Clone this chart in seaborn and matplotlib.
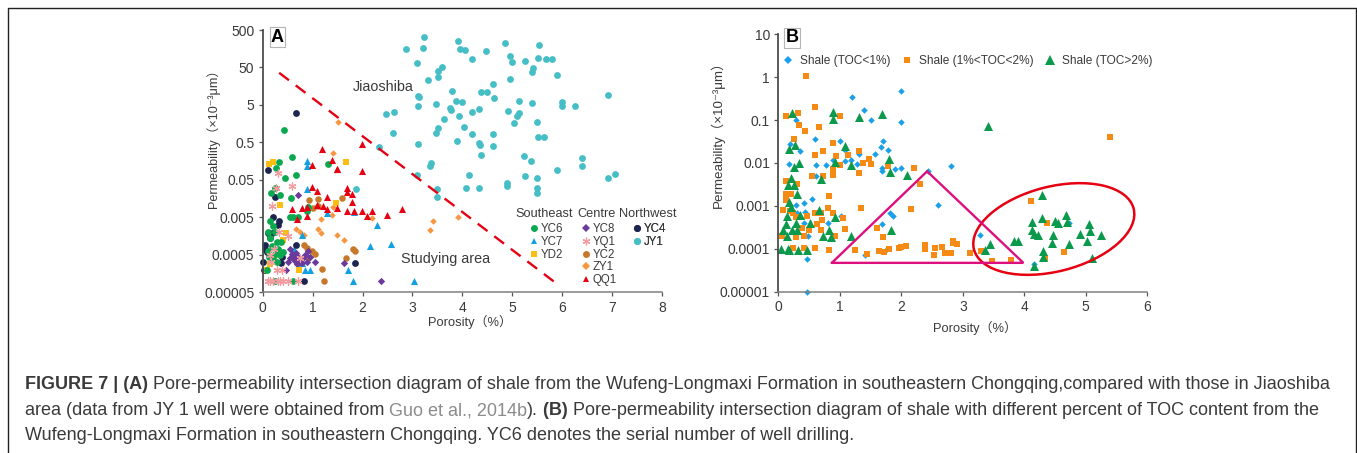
import matplotlib
matplotlib.use("Agg")
import matplotlib.pyplot as plt
import seaborn as sns
from matplotlib.lines import Line2D
from matplotlib.patches import Ellipse
from matplotlib.transforms import Affine2D

W, H = 1357, 453

# Panel A, wells (porosity %, permeability)
yc6_x = [.43, .58, .32, .27, 1.31, .44, .67, .25, .16, .35, .56, .91, .89, .55, .61, .7, .15, .2, .11, .24, .15, .29, .37, .18, .31, .41, .24, .12, .16, .08, .61, .25, .11, .35, .2, .28]
yc6_y = [1.04, .2, .15, .102, .13, .055, .068, .03, .022, .02, .016, .0097, .0076, .005, .0051, .005, .0041, .003, .002, .002, .0014, .0011, .0011, .00085, .00072, .00058, .00054, .00045, .00038, .0002, .0001, .0001, .00065, .0005, .00042, .00032]
yc7_x = [.89, .89, .89, 1.28, 1.82, 2.28, 2.57, 2.15, .78, .63, .78, .85, .95, 1.7, 1.81, 3.03]
yc7_y = [.157, .12, .029, .0064, .0068, .0032, .001, .00087, .0017, .00071, .0003, .0002, .0002, .0002, .0001, .0001]
yd2_x = [.13, .21, 1.66, .35, 1.47, .47, .41, .08, .73, .15, .3]
yd2_y = [.13, .15, .15, .0107, .0124, .0019, .00125, .0002, .0002, .00028, .0005]
yc8_x = [.71, 1.62, 2.37, .47, .55, .6, .65, .55, .7, .75, .8, .85, .9, .95, .5, .58, .68, .72, .78, .88, .62, .66, 1.05]
yc8_y = [.02, .00031, .0001, .0002, .00072, .0004, .00035, .0004, .00045, .00033, .0004, .0005, .00062, .00045, .00032, .00053, .00029, .00036, .0003, .00033, .00045, .00055, .00033]
yq1_x = [.31, .26, .59, .18, .33, .51, .23, .15, .16, .75, .29, .38, .1, .15, .2, .3, .35, .4, .5, .7]
yq1_y = [.075, .03, .035, .0101, .002, .00155, .00071, .0005, .00033, .00041, .0002, .0002, .0001, .0001, .0001, .0001, .0001, .0001, .0001, .0001]
yc2_x = [.92, 1.1, 1.59, 1.1, 1.0, .82, .89, .98, 1.05, 1.81, 1.85, 1.66, .91, 1.18, 1.23]
yc2_y = [.0146, .0156, .016, .0101, .0091, .00092, .00074, .00063, .00054, .0007, .00062, .00041, .00041, .00021, .0001]
zy1_x = [1.51, 1.41, 1.4, 1.38, 1.17, 2.18, 3.41, 3.35, .66, .75, .83, 1.11, 1.16, 1.49, 1.63, 3.91]
zy1_y = [1.7, .257, .0097, .0059, .0045, .0047, .0041, .0023, .0024, .002, .00165, .0024, .0019, .0017, .00125, .005]
qq1_x = [.99, 1.09, 1.29, 1.69, 1.69, 1.79, 1.79, .58, .78, .89, 1.09, 1.2, 1.29, 1.49, 1.69, 1.82, 1.99, 2.19, 2.08, 2.49, 2.79, .89, .69, 1.99, 1.48, 1.19, 1.99, 1.39, .99, 1.48]
qq1_y = [.032, .026, .017, .03, .024, .021, .0127, .0084, .0091, .0097, .0108, .0101, .0082, .0088, .0073, .0076, .0073, .0076, .0055, .0057, .0084, .0054, .0045, .087, .097, .33, .456, .17, .123, .1]
yc4_x = [.67, .11, .25, .21, .33, .31, .11, .18, .05, .05, .08, .67, .01, .02, .37, 1.84, .83, .38, .15]
yc4_y = [3.06, .09, .018, .005, .0039, .0031, .0019, .0019, .0009, .0007, .00058, .0009, .00032, .0002, .0003, .00031, .0001, .00043, .0014]
jy1_x = [3.24, 2.87, 3.21, 3.09, 3.51, 3.52, 3.31, 3.11, 3.13, 3.11, 3.48, 2.63, 2.48, 2.61, 3.48, 3.52, 3.11, 2.33, 3.38, 3.36,
         3.92, 3.96, 4.05, 4.19, 4.47, 4.85, 5.53, 4.95, 4.99, 5.25, 5.51, 5.67, 5.8, 5.41, 5.39, 5.89, 4.96, 4.62, 3.6, 3.79,
         4.37, 4.5, 4.63, 3.87, 4.0, 5.13, 5.39, 6.0, 6.0, 6.26, 6.91, 3.75, 3.77, 4.19, 4.33, 4.91, 5.13, 5.09, 3.93, 3.63,
         5.04, 5.5, 4.03, 4.2, 4.61, 5.51, 5.63, 3.89, 4.33, 4.35, 4.61, 4.38, 5.23, 5.37, 6.39, 6.4, 5.89,
         4.13, 5.26, 5.5, 7.06, 6.91, 4.07, 4.33, 4.89, 4.89, 5.49, 5.5, 3.09, 3.5, 3.5, 1.87]
jy1_y = [319, 152, 162, 67, 41, 28, 23, 8.6, 8, 4.7, 5.2, 3.2, 2.8, .91, .91, 1.2, .46, .37, .14, .12,
         254, 156, 146, 82, 137, 225, 203, 103, 71, 74, 91, 84, 84, 49, 39, 32, 25, 18, 52, 11.5,
         11, 11, 7.5, 6.5, 6, 6.4, 5.6, 6.1, 4.8, 4.7, 9.2, 4.1, 3.7, 3.3, 3.9, 3.5, 3, 2.5, 2.5, 2.1,
         1.6, 1.75, 1.3, .82, .85, .71, .71, .53, .48, .43, .39, .23, .22, .16, .19, .12, .09,
         .068, .065, .056, .071, .055, .03, .03, .041, .035, .03, .023, .068, .028, .017, .029]
divide_x = [.33, 5.88]
divide_y = [36, .000087]

# Panel B, TOC classes
low_x = [1.2, 2.0, 1.39, 2.0, 1.51, .28, .6, 1.0, .19, .35, 1.09, 1.31, 1.7, 1.67, 1.79, 1.58, .18, .61, .78, .89, 1.08, 1.19, 1.28, 1.68, 1.89, 1.99, 2.44, 2.8,
         .62, 1.68, .54, .41, .29, .31, .43, .41, .81, 1.02, .49, 1.68, 1.82, 1.87, 1.41, 1.76, .47, .47, 2.59, 3.28, 4.15, 4.72]
low_y = [.34, .486, .175, .091, .1, .099, .036, .033, .028, .0195, .02, .016, .033, .023, .0205, .016, .0097, .0092, .0088, .0115, .0113, .012, .0095, .0075, .0074, .0077, .0066, .0087,
         .0051, .0064, .00145, .00115, .00107, .0007, .00074, .00041, .00039, .00057, .000196, .00038, .00068, .00059, .00007, .0001, .000059, .00001, .00104, .00021, .000044, .00039]
mid_x = [.45, .59, .12, .32, 1.01, .33, .66, .44, .25, .89, .59, .73, .94, 1.13, 1.31, 1.47, 1.38, 1.51, 1.0, 1.79, .89, 2.21,
         .55, .72, .89, .89, 1.31, .13, .31, 2.3, .12, .2, .13, .82, .07, .81, 1.35, 2.16, .19, .24, .47, .59, .69, .89, 1.06, .28, .71, .63,
         .38, .5, .69, 1.09, 1.6, 1.71, .06, .41, .28, .93, .24, .42, .6, .83, 1.25, 1.44, 1.64, 1.72, 1.8, 1.96, 1.99, 2.07, 2.38, 2.38, 2.53, 2.54,
         2.66, 2.71, 2.8, 2.84, 2.84, 2.91, 3.12, 3.29, 3.48, 3.78, 4.11, 4.37, 4.64, 4.34, 5.4]
mid_y = [1.05, .2, .125, .149, .125, .076, .068, .057, .036, .029, .015, .019, .0144, .0155, .019, .0122, .0098, .0093, .0088, .0086, .0074, .0075,
         .0049, .0049, .0061, .0052, .0057, .0038, .0033, .0033, .0019, .0019, .0014, .00167, .00079, .00087, .00087, .00084, .00077, .00067, .00059, .00069, .00069, .00067, .00051, .00054, .00047, .00038,
         .0003, .00027, .00027, .00029, .0003, .000193, .000196, .0002, .000193, .000196, .000104, .000104, .000104, .000095, .000095, .000077, .000091, .000084, .0001, .000104, .000113, .000117, .000124, .0001, .00007, .000104,
         .000109, .000081, .000081, .000156, .000137, .00013, .000081, .000087, .000052, .000056, .0013, .00041, .000084, .00006, .0397]
high_x = [.23, .89, .89, 1.31, 1.68, .27, .17, 1.09, 1.8, .92, .34, .25, 1.19, 3.41,
          1.82, 2.09, .69, .21, .15, .25, .31, .17, .21, .66, .36, .14, .93, .29, .12, .52, .07, .22, .3, .83, .14, .73, .85, 1.19, 1.83, .05, .15, .18, .32, .47,
          4.28, 4.68, 4.28, 4.13, 4.5, 4.55, 4.69, 5.06, 4.13, 4.15, 4.22, 4.46, 4.91, 5.07, 5.24, 3.84, 3.9, 4.45, 4.73, 5.02, 3.44, 3.36, 4.3, 4.31, 4.16, 5.1]
high_y = [.149, .158, .104, .116, .139, .026, .021, .025, .0124, .0105, .0101, .0081, .0088, .073,
          .0061, .0052, .0043, .0045, .0031, .003, .0019, .00126, .00092, .00081, .0006, .00057, .00054, .00041, .00038, .0004, .00027, .00028, .00028, .00028, .0002, .000196, .00019, .000196, .00027, .0001, .0001, .000095, .000095, .000095,
          .00176, .00062, .00051, .00043, .00045, .00041, .00043, .00038, .00027, .00022, .00021, .00021, .00022, .00026, .00021, .000156, .00015, .000137, .00013, .00015, .00013, .000093, .000087, .000064, .000039, .00006]
triangle_x = [.87, 2.42, 3.985, .87]
triangle_y = [.000047, .0064, .000047, .000047]

ticks_a = [.00005, .0005, .005, .05, .5, 5, 50, 500]
tick_labels_a = ["0.00005", "0.0005", "0.005", "0.05", "0.5", "5", "50", "500"]
ticks_b = [.00001, .0001, .001, .01, .1, 1, 10]
tick_labels_b = ["0.00001", "0.0001", "0.001", "0.01", "0.1", "1", "10"]

sns.set_theme(style="ticks")
plt.rcParams["font.family"] = ["Liberation Sans", "Noto Sans CJK SC", "DejaVu Sans"]
TEXT = "#3a3a3a"

fig = plt.figure(figsize=(W / 100, H / 100), dpi=100)
# pixel coordinates of the reference, y going down
PX = Affine2D().scale(1 / W, -1 / H).translate(0, 1) + fig.transFigure


def make_axes(left, right, top, bottom):
    return fig.add_axes([left / W, 1 - bottom / H, (right - left) / W, (bottom - top) / H])


def scatter(ax, x, y, color, marker, size, **kw):
    kw.setdefault("linewidth", 0)
    sns.scatterplot(x=x, y=y, color=color, marker=marker, s=size, ax=ax, legend=False, clip_on=False, **kw)


def style_axes(ax, xmax, ticks, labels, xlabel_pos, ylabel_pos, ylabel, xsize, ysize):
    ax.set_yscale("log")
    ax.set_xlim(0, xmax)
    ax.set_ylim(ticks[0], ticks[-1])
    ax.set_xticks(range(xmax + 1))
    ax.set_yticks(ticks)
    ax.set_yticklabels(labels)
    ax.minorticks_off()
    ax.tick_params(labelsize=10, length=3, width=0.9, color="#555555", labelcolor=TEXT, pad=3)
    sns.despine(ax=ax)
    ax.spines["left"].set_color("#4d4d4d")
    ax.spines["left"].set_linewidth(1.3)
    ax.spines["bottom"].set_color("#808080")
    ax.spines["bottom"].set_linewidth(1.1)
    ax.set_xlabel("Porosity（%）", fontsize=xsize, color=TEXT)
    ax.set_ylabel(ylabel, fontsize=ysize, color=TEXT)
    ax.xaxis.label.set_va("center")
    ax.yaxis.label.set_va("center")
    ax.xaxis.set_label_coords(*xlabel_pos, transform=PX)
    ax.yaxis.set_label_coords(*ylabel_pos, transform=PX)


def panel_tag(x, y, letter):
    fig.text(x, y, letter, transform=PX, fontsize=13, fontweight="bold", color="black", ha="center", va="center",
             bbox=dict(facecolor="white", edgecolor="#b5b5b5", linewidth=0.8, pad=1))


def group_legend(ax, title_x, marker_x, title, rows):
    ax.text(title_x, 214, title, transform=PX, fontsize=9.2, color=TEXT, va="center", clip_on=False)
    handles = [Line2D([], [], linestyle="none", marker=m, color=c, markersize=ms, markeredgewidth=mew, label=name)
               for name, c, m, ms, mew in rows]
    leg = ax.legend(handles=handles, loc="upper left", bbox_to_anchor=(marker_x - 5.8, 223.5), bbox_transform=PX,
                    frameon=False, fontsize=8.3, borderpad=0, borderaxespad=0,
                    labelspacing=0.05, handlelength=1.0, handletextpad=0.1, labelcolor=TEXT)
    ax.add_artist(leg)


# Panel A
ax_a = make_axes(262.7, 662, 30, 292.3)
scatter(ax_a, jy1_x, jy1_y, "#45BEC6", "o", 24)
scatter(ax_a, yc2_x, yc2_y, "#C8782A", "o", 22)
scatter(ax_a, zy1_x, zy1_y, "#F7963F", "D", 11)
scatter(ax_a, yc7_x, yc7_y, "#12A0E3", "^", 26)
scatter(ax_a, yc8_x, yc8_y, "#6A3A9C", "D", 14)
scatter(ax_a, yc4_x, yc4_y, "#1B2550", "o", 24)
scatter(ax_a, yd2_x, yd2_y, "#FDBE14", "s", 17)
scatter(ax_a, yc6_x, yc6_y, "#0BA94F", "o", 24)
scatter(ax_a, qq1_x, qq1_y, "#E60012", "^", 26)
scatter(ax_a, yq1_x, yq1_y, "#F29C9F", (6, 2, 0), 26, linewidth=0.9, edgecolor="#F29C9F")
ax_a.plot(divide_x, divide_y, color="#E60012", linewidth=1.7, dashes=(5.2, 3.6))
style_axes(ax_a, 8, ticks_a, tick_labels_a, (470, 321.5), (213, 135), "Permeability（×10⁻³μm）", 9.3, 9.1)
panel_tag(277.5, 37, "A")
ax_a.text(353, 87, "Jiaoshiba", transform=PX, fontsize=10.4, color=TEXT, va="center")
ax_a.text(401, 259, "Studying area", transform=PX, fontsize=10.4, color=TEXT, va="center")
group_legend(ax_a, 515, 533.7, "Southeast", [("YC6", "#0BA94F", "o", 5, 0), ("YC7", "#12A0E3", "^", 5, 0), ("YD2", "#FDBE14", "s", 4.4, 0)])
group_legend(ax_a, 577, 585.7, "Centre", [("YC8", "#6A3A9C", "D", 3.8, 0), ("YQ1", "#F29C9F", (6, 2, 0), 5.5, 0.9), ("YC2", "#C8782A", "o", 5, 0),
                                          ("ZY1", "#F7963F", "D", 3.8, 0), ("QQ1", "#E60012", "^", 5, 0)])
group_legend(ax_a, 619.5, 636.7, "Northwest", [("YC4", "#1B2550", "o", 5, 0), ("JY1", "#45BEC6", "o", 5, 0)])

# Panel B
ax_b = make_axes(778.3, 1147.3, 34.3, 291.7)
scatter(ax_b, low_x, low_y, "#1AA0E8", "D", 11, label="Shale (TOC<1%)")
scatter(ax_b, mid_x, mid_y, "#F58A14", "s", 16, label="Shale (1%<TOC<2%)")
scatter(ax_b, high_x, high_y, "#0B9A4C", "^", 42, label="Shale (TOC>2%)")
ax_b.plot(triangle_x, triangle_y, color="#DD0F7F", linewidth=1.7, solid_joinstyle="miter")
ax_b.add_patch(Ellipse((1053.8, 229), 164.8, 84.8, angle=-14.3, transform=PX, fill=False, edgecolor="#E60012", linewidth=1.8, clip_on=False))
style_axes(ax_b, 6, ticks_b, tick_labels_b, (975, 328), (718, 131), "Permeability（×10⁻³μm）", 9.3, 9.6)
panel_tag(792, 38, "B")
b_handles = [Line2D([], [], linestyle="none", marker="D", color="#1AA0E8", markersize=3.6, markeredgewidth=0, label="Shale (TOC<1%)"),
             Line2D([], [], linestyle="none", marker="s", color="#F58A14", markersize=4, markeredgewidth=0, label="Shale (1%<TOC<2%)"),
             Line2D([], [], linestyle="none", marker="^", color="#0B9A4C", markersize=7, markeredgewidth=0, label="Shale (TOC>2%)")]
ax_b.legend(handles=b_handles, ncol=3, loc="center left", bbox_to_anchor=(782, 61), bbox_transform=PX, frameon=False,
            fontsize=8.6, borderpad=0, borderaxespad=0, handlelength=1.0, handletextpad=0.5, columnspacing=0.9, labelcolor=TEXT)

# Frame around the figure
fig.add_artist(Line2D([7.5, 7.5, 1355.5, 1355.5], [H, 8, 8, H], color="#222222", linewidth=1.0, transform=PX))

# Caption
caption = [
    (389, [("FIGURE 7 | (A)", True, TEXT), (" Pore-permeability intersection diagram of shale from the Wufeng-Longmaxi Formation in southeastern Chongqing,compared with those in Jiaoshiba", False, TEXT)]),
    (415, [("area (data from JY 1 well were obtained from ", False, TEXT), ("Guo et al., 2014b", False, "#8c8c8c"), (").", False, TEXT), (" (B)", True, TEXT),
           (" Pore-permeability intersection diagram of shale with different percent of TOC content from the", False, TEXT)]),
    (440, [("Wufeng-Longmaxi Formation in southeastern Chongqing. YC6 denotes the serial number of well drilling.", False, TEXT)]),
]
renderer = fig.canvas.get_renderer()
for baseline, parts in caption:
    cursor = 25
    for chunk, bold, colour in parts:
        t = fig.text(cursor, baseline, chunk, transform=PX, fontsize=13, color=colour, va="baseline",
                     fontweight="bold" if bold else "normal")
        cursor = t.get_window_extent(renderer).x1

fig.savefig("out.png", dpi=100)
